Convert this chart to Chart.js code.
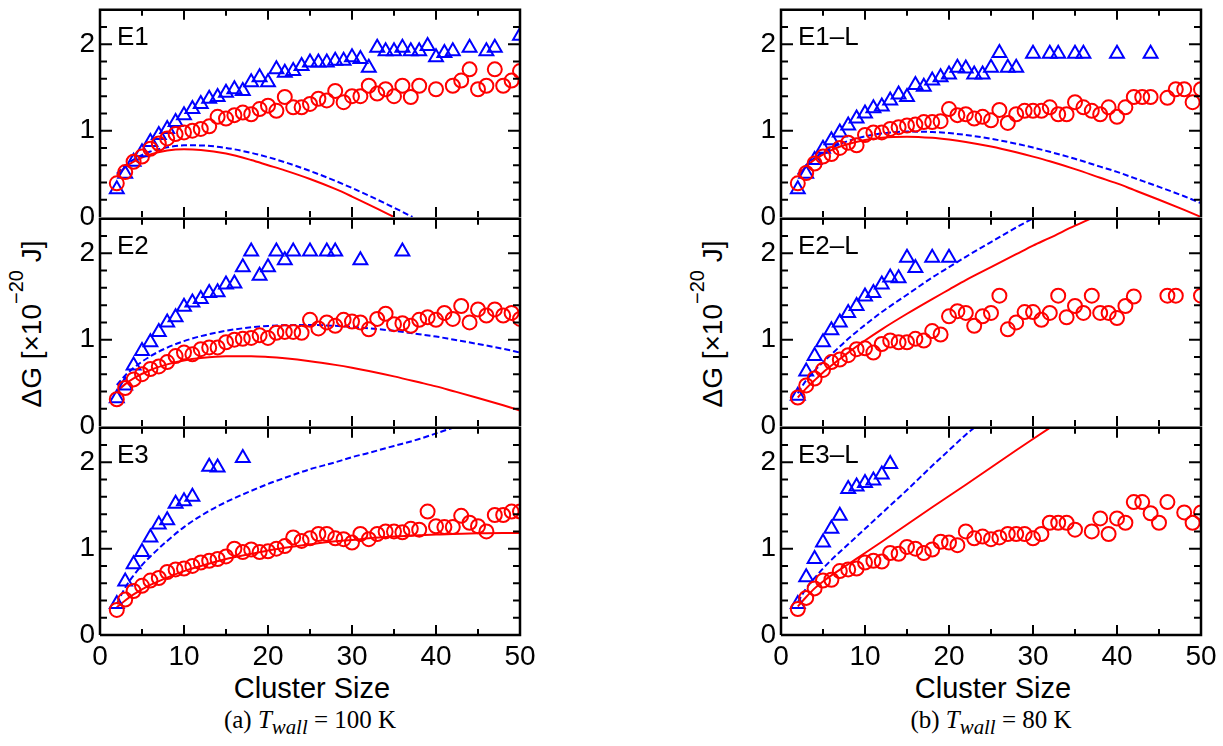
<!DOCTYPE html>
<html>
<head>
<meta charset="utf-8">
<script src="https://cdn.jsdelivr.net/npm/chart.js@4.4.0/dist/chart.umd.min.js"></script>
<style>
  body { margin: 0; background: #fff; width: 1223px; height: 746px; position: relative; overflow: hidden; }
  canvas { position: absolute; }
  .lbl { position: absolute; transform: translate(-50%, -50%); white-space: nowrap; line-height: 1; color: #000; }
  .sans { font-family: "Liberation Sans", Arial, sans-serif; font-size: 29px; }
  .ytitle { font-size: 28px; transform: translate(-50%, -50%) rotate(-90deg); }
  .sup { font-size: 20px; position: relative; top: -18px; }
  .caption { font-family: "Liberation Serif", "Times New Roman", serif; font-size: 25px; }
</style>
</head>
<body>

<div class="lbl sans ytitle" style="left:32px; top:324px">ΔG [×10<span class="sup">−20</span> J]</div>
<div class="lbl sans ytitle" style="left:713px; top:324px">ΔG [×10<span class="sup">−20</span> J]</div>
<div class="lbl sans" style="left:312px; top:688px">Cluster Size</div>
<div class="lbl sans" style="left:993px; top:688px">Cluster Size</div>
<div class="lbl caption" style="left:310px; top:722px">(a) <i>T</i><sub><i>wall</i></sub> = 100 K</div>
<div class="lbl caption" style="left:991px; top:722px">(b) <i>T</i><sub><i>wall</i></sub> = 80 K</div>

<script>
// axis ticks
const xTicks = [0, 10, 20, 30, 40, 50];
const yTicks = [0, 1, 2];
const xMarks = [5, 10, 15, 20, 25, 30, 35, 40, 45];
const yMarks = [0.2, 0.4, 0.6, 0.8, 1, 1.2, 1.4, 1.6, 1.8, 2, 2.2];

// ---- E1 (100 K) ----
const e1CircN = [2,3,4,5,6,7,8,9,10,11,12,13,14,15,16,17,18,19,20,21,22,23,24,25,26,27,28,29,30,31,32,33,34,35,36,37,38,40,42,43,44,45,46,47,48,49,50];
const e1Circ = [0.39,0.52,0.64,0.70,0.79,0.85,0.91,0.96,0.98,1.00,1.02,1.05,1.16,1.14,1.18,1.21,1.19,1.25,1.29,1.23,1.39,1.27,1.27,1.31,1.37,1.35,1.46,1.33,1.40,1.40,1.52,1.43,1.48,1.40,1.52,1.39,1.52,1.48,1.52,1.58,1.71,1.48,1.52,1.71,1.52,1.58,1.69];
const e1TriN = [2,3,4,5,6,7,8,9,10,11,12,13,14,15,16,17,18,19,20,21,22,23,24,25,26,27,28,29,30,31,32,33,34,35,36,37,38,39,40,41,42,44,46,47,50];
const e1Tri = [0.32,0.50,0.64,0.75,0.87,0.95,1.02,1.10,1.18,1.25,1.31,1.37,1.39,1.44,1.48,1.46,1.56,1.62,1.56,1.71,1.67,1.69,1.75,1.79,1.79,1.79,1.81,1.81,1.85,1.83,1.73,1.96,1.92,1.92,1.96,1.92,1.92,1.98,1.85,1.90,1.92,1.96,1.92,1.96,2.10];
const e1SolidN = [2,3,4,6,8,10,12,15,18,20,22,25,28,30,32,34,35];
const e1Solid = [0.48,0.575,0.64,0.725,0.77,0.785,0.777,0.735,0.66,0.60,0.54,0.44,0.325,0.237,0.144,0.047,0];
const e1DashN = [2,3,4,6,8,10,12,15,18,20,22,25,28,30,32,34,36,37.2];
const e1Dash = [0.50,0.595,0.665,0.758,0.808,0.83,0.829,0.80,0.743,0.693,0.635,0.534,0.419,0.336,0.248,0.155,0.06,0];

// ---- E2 (100 K) ----
const e2CircN = [2,3,4,5,6,7,8,9,10,11,12,13,14,15,16,17,18,19,20,21,22,23,24,25,26,27,28,29,30,31,32,33,34,35,36,37,38,39,40,41,42,43,44,45,46,47,48,49,50];
const e2Circ = [0.31,0.44,0.54,0.60,0.66,0.69,0.74,0.81,0.85,0.83,0.89,0.91,0.91,0.97,1.00,1.01,1.02,1.05,1.02,1.08,1.09,1.09,1.08,1.23,1.13,1.20,1.16,1.23,1.21,1.20,1.12,1.24,1.30,1.18,1.19,1.16,1.23,1.26,1.23,1.31,1.24,1.39,1.20,1.35,1.28,1.35,1.28,1.31,1.24];
const e2TriN = [2,3,4,5,6,7,8,9,10,11,12,13,14,15,16,17,18,19,20,21,22,23,25,27,28,31,36];
const e2Tri = [0.32,0.47,0.70,0.87,0.97,1.09,1.20,1.26,1.38,1.43,1.47,1.54,1.55,1.64,1.65,1.84,2.02,1.74,1.84,2.02,1.92,2.02,2.02,2.02,2.02,1.92,2.02];
const e2SolidN = [2,3,4,6,8,10,12,15,18,20,22,25,28,30,32,35,38,40,42,45,48,50];
const e2Solid = [0.40,0.485,0.552,0.649,0.714,0.759,0.787,0.808,0.808,0.799,0.784,0.751,0.708,0.675,0.638,0.575,0.506,0.459,0.406,0.325,0.240,0.18];
const e2DashN = [2,3,4,6,8,10,12,15,18,20,22,25,28,30,32,35,38,40,42,45,48,50];
const e2Dash = [0.475,0.585,0.673,0.808,0.908,0.983,1.041,1.103,1.143,1.159,1.167,1.170,1.160,1.148,1.132,1.102,1.063,1.036,1.002,0.950,0.894,0.85];

// ---- E3 (100 K) ----
const e3CircN = [2,3,4,5,6,7,8,9,10,11,12,13,14,15,16,17,18,19,20,21,22,23,24,25,26,27,28,29,30,31,32,33,34,35,36,37,38,39,40,41,42,43,44,45,46,47,48,49,50];
const e3Circ = [0.29,0.41,0.51,0.57,0.63,0.66,0.73,0.76,0.77,0.80,0.84,0.86,0.88,0.91,1.00,0.96,0.99,0.96,0.97,1.00,1.03,1.13,1.09,1.12,1.17,1.17,1.12,1.11,1.07,1.17,1.11,1.17,1.20,1.20,1.19,1.23,1.22,1.43,1.26,1.25,1.25,1.38,1.30,1.26,1.20,1.39,1.39,1.43,1.43];
const e3TriN = [2,3,4,5,6,7,8,9,10,11,13,14,17];
const e3Tri = [0.36,0.62,0.82,0.96,1.13,1.28,1.33,1.52,1.55,1.60,1.95,1.94,2.05];
const e3SolidN = [2,3,4,6,8,10,12,15,18,20,22,25,28,30,32,35,38,40,42,45,48,50];
const e3Solid = [0.32,0.40,0.47,0.58,0.665,0.74,0.80,0.88,0.94,0.98,1.01,1.05,1.085,1.10,1.12,1.14,1.155,1.165,1.17,1.178,1.182,1.182];
const e3DashN = [2,3,4,5,6,8,10,12,15,18,20,22,25,28,30,32,35,38,40,42];
const e3Dash = [0.36,0.55,0.69,0.81,0.91,1.09,1.25,1.38,1.54,1.67,1.75,1.82,1.92,2.00,2.06,2.11,2.19,2.27,2.335,2.40];

// ---- E1-L (80 K) ----
const l1CircN = [2,3,4,5,6,7,8,9,10,11,12,13,14,15,16,17,18,19,20,21,22,23,24,25,26,27,28,29,30,31,32,33,34,35,36,37,38,39,40,41,42,43,44,46,47,48,49,50];
const l1Circ = [0.39,0.51,0.62,0.70,0.73,0.80,0.86,0.83,0.95,0.98,0.98,1.02,1.04,1.06,1.07,1.10,1.10,1.11,1.25,1.18,1.19,1.14,1.16,1.12,1.24,1.09,1.19,1.23,1.23,1.23,1.27,1.19,1.19,1.33,1.27,1.23,1.19,1.27,1.16,1.27,1.39,1.39,1.39,1.38,1.48,1.48,1.33,1.48];
const l1TriN = [2,3,4,5,6,7,8,9,10,11,12,13,14,15,16,17,18,19,20,21,22,23,24,25,26,27,28,30,32,33,35,36,40,44];
const l1Tri = [0.32,0.50,0.66,0.79,0.89,0.98,1.06,1.14,1.20,1.26,1.28,1.35,1.42,1.39,1.53,1.51,1.58,1.62,1.65,1.73,1.72,1.65,1.65,1.73,1.90,1.73,1.73,1.89,1.89,1.89,1.89,1.89,1.89,1.89];
const l1SolidN = [2,3,4,6,8,10,12,15,18,20,22,25,28,30,32,35,38,40,42,45,48,50];
const l1Solid = [0.484,0.586,0.664,0.775,0.846,0.892,0.919,0.93,0.917,0.897,0.87,0.816,0.749,0.699,0.645,0.554,0.455,0.389,0.314,0.20,0.082,0];
const l1DashN = [2,3,4,6,8,10,12,15,18,20,22,25,28,30,32,35,38,40,42,45,48,50];
const l1Dash = [0.495,0.602,0.684,0.802,0.881,0.934,0.967,0.989,0.985,0.972,0.95,0.906,0.849,0.804,0.755,0.674,0.583,0.523,0.453,0.349,0.24,0.16];

// ---- E2-L (80 K) ----
const l2CircN = [2,3,4,5,6,7,8,9,10,11,12,13,14,15,16,17,18,19,20,21,22,23,24,25,26,27,28,29,30,31,32,33,34,35,36,37,38,39,40,41,42,46,47,50];
const l2Circ = [0.33,0.47,0.55,0.65,0.74,0.77,0.82,0.89,0.90,0.85,0.95,0.99,0.97,0.97,1.01,0.99,1.10,1.06,1.27,1.33,1.31,1.16,1.27,1.31,1.51,1.12,1.20,1.32,1.32,1.23,1.31,1.51,1.26,1.39,1.31,1.51,1.31,1.31,1.25,1.39,1.50,1.51,1.51,1.51];
const l2TriN = [2,3,4,5,6,7,8,9,10,11,12,13,14,15,16,18,20];
const l2Tri = [0.35,0.63,0.81,0.97,1.11,1.20,1.31,1.39,1.50,1.54,1.64,1.72,1.71,1.95,1.83,1.95,1.95];
const l2SolidN = [2,3,4,5,6,8,10,12,15,18,20,22,25,28,30,32,35,36.8];
const l2Solid = [0.33,0.436,0.53,0.62,0.70,0.85,0.99,1.12,1.30,1.47,1.58,1.69,1.84,1.99,2.09,2.18,2.32,2.40];
const l2DashN = [2,3,4,5,6,8,10,12,15,18,20,22,25,28,29.9];
const l2Dash = [0.38,0.53,0.64,0.74,0.83,1.01,1.17,1.32,1.52,1.72,1.84,1.96,2.13,2.30,2.40];

// ---- E3-L (80 K) ----
const l3CircN = [2,3,4,5,6,7,8,9,10,11,12,13,14,15,16,17,18,19,20,21,22,23,24,25,26,27,28,29,30,31,32,33,34,35,37,38,39,40,41,42,43,44,45,46,48,49,50];
const l3Circ = [0.30,0.43,0.54,0.63,0.64,0.74,0.76,0.77,0.84,0.86,0.85,0.95,0.94,1.02,1.00,0.95,0.99,1.08,1.07,1.04,1.20,1.12,1.14,1.11,1.13,1.17,1.17,1.17,1.12,1.17,1.30,1.30,1.30,1.22,1.20,1.35,1.17,1.35,1.30,1.54,1.54,1.41,1.30,1.54,1.42,1.30,1.42];
const l3TriN = [2,3,4,5,6,7,8,9,10,11,12,13];
const l3Tri = [0.36,0.67,0.88,1.07,1.23,1.38,1.69,1.72,1.76,1.79,1.86,1.98];
const l3SolidN = [2,3,4,5,6,8,10,12,15,18,20,22,25,28,30,32];
const l3Solid = [0.33,0.44,0.54,0.62,0.69,0.82,0.95,1.08,1.28,1.48,1.61,1.74,1.94,2.14,2.27,2.40];
const l3DashN = [2,3,4,5,6,8,10,12,15,18,20,22,23];
const l3Dash = [0.38,0.54,0.66,0.77,0.87,1.05,1.23,1.41,1.68,1.96,2.14,2.32,2.40];

const RED = '#ff0000';
const BLUE = '#0000ff';
const SANS = '"Liberation Sans", Arial, sans-serif';

const pts = (ns, vs) => ns.map((n, i) => ({ x: n, y: vs[i] }));

// frame, inward ticks on all four sides and the panel name;
// the bottom edge of an upper panel is the top edge of the one below it
const framePlugin = {
  id: 'frame',
  afterDatasetsDraw(chart, args, opts) {
    const { ctx, chartArea: a } = chart;
    const x = chart.scales.x, y = chart.scales.y;
    ctx.save();
    ctx.strokeStyle = '#000';
    ctx.lineWidth = 2;
    ctx.beginPath();
    xMarks.forEach(v => {
      const px = x.getPixelForValue(v);
      const len = v % 10 === 0 ? 10 : 6;
      ctx.moveTo(px, a.bottom); ctx.lineTo(px, a.bottom - len);
      ctx.moveTo(px, a.top); ctx.lineTo(px, a.top + len);
    });
    yMarks.forEach(v => {
      const py = y.getPixelForValue(v);
      const len = Math.abs(v - Math.round(v)) < 1e-6 ? 12 : 7;
      ctx.moveTo(a.left, py); ctx.lineTo(a.left + len, py);
      ctx.moveTo(a.right, py); ctx.lineTo(a.right - len, py);
    });
    ctx.stroke();

    ctx.lineWidth = 2.5;
    ctx.beginPath();
    ctx.moveTo(a.left, a.bottom);
    ctx.lineTo(a.left, a.top);
    ctx.lineTo(a.right, a.top);
    ctx.lineTo(a.right, a.bottom);
    if (opts.closed) ctx.lineTo(a.left, a.bottom);
    ctx.stroke();

    ctx.fillStyle = '#000';
    ctx.font = '26px ' + SANS;
    ctx.textBaseline = 'alphabetic';
    ctx.textAlign = 'left';
    ctx.fillText(opts.text, a.left + 17, a.top + 35);
    ctx.restore();
  }
};

const panels = [
  { left: 100, top: 8,   name: 'E1',   last: false, circ: pts(e1CircN, e1Circ), tri: pts(e1TriN, e1Tri), solid: pts(e1SolidN, e1Solid), dash: pts(e1DashN, e1Dash) },
  { left: 100, top: 217, name: 'E2',   last: false, circ: pts(e2CircN, e2Circ), tri: pts(e2TriN, e2Tri), solid: pts(e2SolidN, e2Solid), dash: pts(e2DashN, e2Dash) },
  { left: 100, top: 426, name: 'E3',   last: true,  circ: pts(e3CircN, e3Circ), tri: pts(e3TriN, e3Tri), solid: pts(e3SolidN, e3Solid), dash: pts(e3DashN, e3Dash) },
  { left: 781, top: 8,   name: 'E1–L', last: false, circ: pts(l1CircN, l1Circ), tri: pts(l1TriN, l1Tri), solid: pts(l1SolidN, l1Solid), dash: pts(l1DashN, l1Dash) },
  { left: 781, top: 217, name: 'E2–L', last: false, circ: pts(l2CircN, l2Circ), tri: pts(l2TriN, l2Tri), solid: pts(l2SolidN, l2Solid), dash: pts(l2DashN, l2Dash) },
  { left: 781, top: 426, name: 'E3–L', last: true,  circ: pts(l3CircN, l3Circ), tri: pts(l3TriN, l3Tri), solid: pts(l3SolidN, l3Solid), dash: pts(l3DashN, l3Dash) }
];

const PLOT_W = 420, PLOT_H = 209;
const PAD_L = 60, PAD_T = 20, PAD_R = 25;

panels.forEach(p => {
  const padB = p.last ? 60 : 25;
  const cv = document.createElement('canvas');
  cv.width = PAD_L + PLOT_W + PAD_R;
  cv.height = PAD_T + PLOT_H + padB;
  cv.style.left = (p.left - PAD_L) + 'px';
  cv.style.top = (p.top - PAD_T) + 'px';
  document.body.appendChild(cv);

  new Chart(cv.getContext('2d'), {
    type: 'scatter',
    data: {
      datasets: [
        { data: p.circ, order: 0, pointStyle: 'circle', pointRadius: 7, pointBorderWidth: 2,
          borderColor: RED, pointBorderColor: RED, pointBackgroundColor: 'rgba(0,0,0,0)', showLine: false },
        { data: p.tri, order: 1, pointStyle: 'triangle', pointRadius: 8, pointBorderWidth: 2,
          borderColor: BLUE, pointBorderColor: BLUE, pointBackgroundColor: 'rgba(0,0,0,0)', showLine: false },
        { data: p.solid, order: 2, showLine: true, pointRadius: 0, borderColor: RED, borderWidth: 2,
          cubicInterpolationMode: 'monotone' },
        { data: p.dash, order: 3, showLine: true, pointRadius: 0, borderColor: BLUE, borderWidth: 2,
          borderDash: [6, 3], cubicInterpolationMode: 'monotone' }
      ]
    },
    options: {
      responsive: false,
      animation: false,
      devicePixelRatio: 1,
      events: [],
      layout: { padding: { left: 0, top: PAD_T, right: PAD_R, bottom: p.last ? 0 : padB } },
      plugins: { legend: { display: false }, tooltip: { enabled: false }, frame: { text: p.name, closed: p.last } },
      scales: {
        x: {
          type: 'linear', min: 0, max: 50, display: p.last,
          grid: { display: false, drawTicks: false }, border: { display: false },
          afterBuildTicks: s => { s.ticks = xTicks.map(v => ({ value: v })); },
          afterFit: s => { s.height = p.last ? padB : 0; },
          ticks: { color: '#000', font: { family: SANS, size: 28 }, padding: 5, maxRotation: 0, autoSkip: false }
        },
        y: {
          type: 'linear', min: 0, max: 2.4,
          grid: { display: false, drawTicks: false }, border: { display: false },
          afterBuildTicks: s => { s.ticks = yTicks.map(v => ({ value: v })); },
          afterFit: s => { s.width = PAD_L; },
          ticks: { color: '#000', font: { family: SANS, size: 28 }, padding: 5 }
        }
      }
    },
    plugins: [framePlugin]
  });
});
</script>
</body>
</html>
